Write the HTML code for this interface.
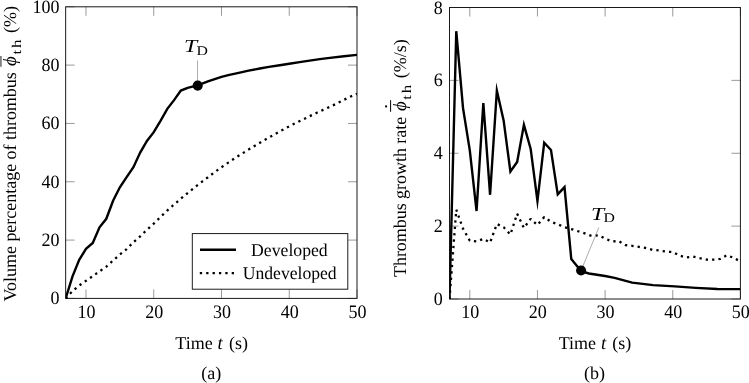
<!DOCTYPE html>
<html lang="en"><head><meta charset="utf-8"><title>Thrombus volume percentage and growth rate</title>
<style>
html,body{margin:0;padding:0;background:#fff;}
body{width:749px;height:383px;overflow:hidden;}
svg{display:block;will-change:transform;text-rendering:geometricPrecision;}
text{font-family:"Liberation Serif","DejaVu Serif",serif;font-size:18.0px;fill:#000;}
.it{font-style:italic;}
.sub{font-size:13.3px;}
.ax{fill:none;stroke:#1a1a1a;stroke-width:1;}
.tk{fill:none;stroke:#808080;stroke-width:0.8;}
.cv{fill:none;stroke:#000;stroke-width:2.4;stroke-linejoin:miter;stroke-miterlimit:10;stroke-linecap:butt;}
.dt{fill:none;stroke:#000;stroke-width:2.3;stroke-dasharray:2.3 4.08;stroke-linejoin:bevel;stroke-linecap:butt;}
.pin{fill:none;stroke:#909090;stroke-width:0.75;}
</style></head><body>
<svg width="749" height="383" viewBox="0 0 749 383">
<rect x="0" y="0" width="749" height="383" fill="#fff"/>
<defs><clipPath id="cl"><rect x="65.65" y="5.80" width="291.35" height="293.60"/></clipPath>
<clipPath id="cr"><rect x="449.50" y="6.50" width="290.90" height="293.50"/></clipPath></defs>
<line class="tk" x1="85.98" y1="298.40" x2="85.98" y2="289.40"/>
<line class="tk" x1="85.98" y1="6.80" x2="85.98" y2="15.80"/>
<line class="tk" x1="153.73" y1="298.40" x2="153.73" y2="289.40"/>
<line class="tk" x1="153.73" y1="6.80" x2="153.73" y2="15.80"/>
<line class="tk" x1="221.49" y1="298.40" x2="221.49" y2="289.40"/>
<line class="tk" x1="221.49" y1="6.80" x2="221.49" y2="15.80"/>
<line class="tk" x1="289.24" y1="298.40" x2="289.24" y2="289.40"/>
<line class="tk" x1="289.24" y1="6.80" x2="289.24" y2="15.80"/>
<line class="tk" x1="357.00" y1="298.40" x2="357.00" y2="289.40"/>
<line class="tk" x1="357.00" y1="6.80" x2="357.00" y2="15.80"/>
<line class="tk" x1="65.65" y1="298.40" x2="74.65" y2="298.40"/>
<line class="tk" x1="357.00" y1="298.40" x2="348.00" y2="298.40"/>
<line class="tk" x1="65.65" y1="240.08" x2="74.65" y2="240.08"/>
<line class="tk" x1="357.00" y1="240.08" x2="348.00" y2="240.08"/>
<line class="tk" x1="65.65" y1="181.76" x2="74.65" y2="181.76"/>
<line class="tk" x1="357.00" y1="181.76" x2="348.00" y2="181.76"/>
<line class="tk" x1="65.65" y1="123.44" x2="74.65" y2="123.44"/>
<line class="tk" x1="357.00" y1="123.44" x2="348.00" y2="123.44"/>
<line class="tk" x1="65.65" y1="65.12" x2="74.65" y2="65.12"/>
<line class="tk" x1="357.00" y1="65.12" x2="348.00" y2="65.12"/>
<line class="tk" x1="65.65" y1="6.80" x2="74.65" y2="6.80"/>
<line class="tk" x1="357.00" y1="6.80" x2="348.00" y2="6.80"/>
<text transform="translate(86.38,317.80) scale(1,1.06)" text-anchor="middle">10</text>
<text transform="translate(154.13,317.80) scale(1,1.06)" text-anchor="middle">20</text>
<text transform="translate(221.89,317.80) scale(1,1.06)" text-anchor="middle">30</text>
<text transform="translate(289.64,317.80) scale(1,1.06)" text-anchor="middle">40</text>
<text transform="translate(357.40,317.80) scale(1,1.06)" text-anchor="middle">50</text>
<text transform="translate(59.60,304.30) scale(1,1.05)" text-anchor="end">0</text>
<text transform="translate(59.60,245.98) scale(1,1.05)" text-anchor="end">20</text>
<text transform="translate(59.60,187.66) scale(1,1.05)" text-anchor="end">40</text>
<text transform="translate(59.60,129.34) scale(1,1.05)" text-anchor="end">60</text>
<text transform="translate(59.60,71.02) scale(1,1.05)" text-anchor="end">80</text>
<text transform="translate(59.60,12.70) scale(1,1.05)" text-anchor="end">100</text>
<rect class="ax" x="65.65" y="6.80" width="291.35" height="291.60"/>
<g clip-path="url(#cl)">
<path class="cv" d="M65.65 298.40 L72.43 276.53 L79.20 259.91 L85.98 248.83 L92.75 243.00 L99.53 227.25 L106.30 218.79 L113.08 200.71 L119.85 187.30 L126.63 177.09 L133.41 167.18 L140.18 152.60 L146.96 140.94 L153.73 132.19 L160.51 120.82 L167.28 108.86 L174.06 100.11 L180.83 90.58 L187.61 87.86 L197.57 85.44 L207.94 81.45 L214.71 79.12 L221.49 76.93 L228.26 75.18 L239.85 72.61 L248.59 70.66 L259.84 68.50 L268.92 66.93 L279.76 65.27 L289.24 63.72 L301.24 61.91 L309.57 60.66 L319.80 59.11 L329.90 57.83 L343.92 56.23 L357.00 54.91"/>
<path class="dt" d="M65.65 298.40 L72.43 291.20 L79.20 285.53 L85.98 280.82 L92.75 276.18 L99.53 271.33 L106.30 266.64 L113.08 260.46 L119.85 254.53 L126.63 249.20 L133.41 242.19 L140.18 236.33 L146.96 229.73 L153.73 223.63 L160.51 216.89 L167.28 210.52 L174.06 204.50 L180.83 198.71 L187.61 193.06 L194.39 187.60 L201.16 182.31 L207.94 177.22 L214.71 172.08 L221.49 167.20 L228.26 162.64 L235.04 158.05 L241.82 153.78 L248.59 149.57 L255.37 145.45 L262.14 141.41 L268.92 137.53 L275.69 133.70 L282.47 129.96 L289.24 126.25 L296.02 122.84 L302.80 119.57 L309.57 116.22 L316.35 113.01 L323.12 109.92 L329.90 106.83 L336.67 103.60 L343.45 100.07 L350.22 96.75 L357.00 93.72"/>
</g>
<line class="pin" x1="197.50" y1="60.50" x2="197.50" y2="85.60"/>
<circle cx="197.70" cy="85.60" r="5.05" fill="#000"/>
<text transform="translate(184.0,52.4) scale(1.28,1)" class="it" style="font-size:18.5px">T</text><text transform="translate(196.4,54.8) scale(1.19,1)" class="sub">D</text>
<rect x="192.3" y="233.6" width="155.5" height="55.6" fill="#fff" stroke="#111" stroke-width="0.95"/>
<line class="cv" x1="200" y1="249.7" x2="236" y2="249.7"/>
<line class="dt" x1="199.8" y1="273.2" x2="236" y2="273.2"/>
<text x="289.4" y="255.5" text-anchor="middle" textLength="76.6" lengthAdjust="spacingAndGlyphs">Developed</text>
<text x="289.7" y="279.2" text-anchor="middle" textLength="94.0" lengthAdjust="spacingAndGlyphs">Undeveloped</text>
<text x="175.3" y="349">Time</text><text x="217.6" y="349" class="it" style="font-size:18.6px">t</text><text x="228.9" y="349">(s)</text>
<text x="211.2" y="379" text-anchor="middle">(a)</text>
<g transform="translate(16.20,0) rotate(-90)">
<text x="-301.6" y="0" textLength="229.4" lengthAdjust="spacing">Volume percentage of thrombus</text>
<text x="-66.1" y="0" class="it" style="font-size:18.8px">&#981;</text>
<text transform="translate(-54.6,4.8) scale(1.28,1)" class="sub" style="letter-spacing:1.5px">th</text>
<text x="-33.0" y="0">(%)</text>
</g>
<rect x="0" y="56" width="1.8" height="10.8" fill="#808080"/>
<line class="tk" x1="469.80" y1="299.00" x2="469.80" y2="290.00"/>
<line class="tk" x1="469.80" y1="7.50" x2="469.80" y2="16.50"/>
<line class="tk" x1="537.45" y1="299.00" x2="537.45" y2="290.00"/>
<line class="tk" x1="537.45" y1="7.50" x2="537.45" y2="16.50"/>
<line class="tk" x1="605.10" y1="299.00" x2="605.10" y2="290.00"/>
<line class="tk" x1="605.10" y1="7.50" x2="605.10" y2="16.50"/>
<line class="tk" x1="672.75" y1="299.00" x2="672.75" y2="290.00"/>
<line class="tk" x1="672.75" y1="7.50" x2="672.75" y2="16.50"/>
<line class="tk" x1="740.40" y1="299.00" x2="740.40" y2="290.00"/>
<line class="tk" x1="740.40" y1="7.50" x2="740.40" y2="16.50"/>
<line class="tk" x1="449.50" y1="299.00" x2="458.50" y2="299.00"/>
<line class="tk" x1="740.40" y1="299.00" x2="731.40" y2="299.00"/>
<line class="tk" x1="449.50" y1="226.12" x2="458.50" y2="226.12"/>
<line class="tk" x1="740.40" y1="226.12" x2="731.40" y2="226.12"/>
<line class="tk" x1="449.50" y1="153.25" x2="458.50" y2="153.25"/>
<line class="tk" x1="740.40" y1="153.25" x2="731.40" y2="153.25"/>
<line class="tk" x1="449.50" y1="80.38" x2="458.50" y2="80.38"/>
<line class="tk" x1="740.40" y1="80.38" x2="731.40" y2="80.38"/>
<line class="tk" x1="449.50" y1="7.50" x2="458.50" y2="7.50"/>
<line class="tk" x1="740.40" y1="7.50" x2="731.40" y2="7.50"/>
<text transform="translate(470.20,318.40) scale(1,1.06)" text-anchor="middle">10</text>
<text transform="translate(537.85,318.40) scale(1,1.06)" text-anchor="middle">20</text>
<text transform="translate(605.50,318.40) scale(1,1.06)" text-anchor="middle">30</text>
<text transform="translate(673.15,318.40) scale(1,1.06)" text-anchor="middle">40</text>
<text transform="translate(740.80,318.40) scale(1,1.06)" text-anchor="middle">50</text>
<text transform="translate(442.80,305.10) scale(1,1.05)" text-anchor="end">0</text>
<text transform="translate(442.80,232.22) scale(1,1.05)" text-anchor="end">2</text>
<text transform="translate(442.80,159.35) scale(1,1.05)" text-anchor="end">4</text>
<text transform="translate(442.80,86.47) scale(1,1.05)" text-anchor="end">6</text>
<text transform="translate(442.80,13.60) scale(1,1.05)" text-anchor="end">8</text>
<rect class="ax" x="449.50" y="7.50" width="290.90" height="291.50"/>
<g clip-path="url(#cr)">
<path class="dt" d="M449.50 299.00 L456.27 209.73 L463.03 228.68 L469.80 240.70 L476.56 241.43 L483.33 238.88 L490.09 242.52 L496.86 223.94 L503.62 227.22 L510.39 234.51 L517.15 213.74 L523.92 227.95 L530.68 218.84 L537.45 225.03 L544.21 217.02 L550.98 221.75 L557.74 224.30 L564.51 227.22 L571.27 229.04 L578.04 231.23 L584.80 233.41 L591.57 235.96 L598.33 235.23 L605.10 238.51 L611.86 241.43 L618.63 241.06 L625.39 245.07 L632.16 245.80 L638.92 246.89 L645.69 247.99 L652.45 249.81 L659.22 250.54 L665.98 251.63 L672.75 252.00 L679.51 255.64 L686.28 257.46 L693.04 256.55 L699.81 258.19 L706.57 259.65 L713.34 259.65 L720.10 258.92 L726.87 255.28 L733.63 257.83 L740.40 261.47"/>
<path class="cv" d="M449.50 299.00 L456.27 31.18 L463.03 108.07 L469.80 150.34 L476.56 211.00 L483.33 102.97 L490.09 194.79 L496.86 90.58 L503.62 120.46 L510.39 171.47 L517.15 162.00 L523.92 124.83 L530.68 148.88 L537.45 200.98 L544.21 142.68 L550.98 149.97 L557.74 194.42 L564.51 187.14 L571.27 258.92 L581.22 271.20 L588.86 273.49 L605.10 276.04 L614.57 277.87 L632.16 282.60 L653.13 285.15 L674.78 286.39 L695.75 287.89 L717.40 288.98 L740.40 289.16"/>
</g>
<line class="pin" x1="581.10" y1="270.50" x2="598.80" y2="227.60"/>
<circle cx="581.10" cy="270.50" r="5.05" fill="#000"/>
<text transform="translate(591.0,219.8) scale(1.28,1)" class="it" style="font-size:18.5px">T</text><text transform="translate(603.4,222.2) scale(1.19,1)" class="sub">D</text>
<text x="558.75" y="349.2">Time</text><text x="601.05" y="349.2" class="it" style="font-size:18.6px">t</text><text x="612.35" y="349.2">(s)</text>
<text x="594.6" y="379.2" text-anchor="middle">(b)</text>
<g transform="translate(406.20,0) rotate(-90)">
<text x="-277.0" y="0" textLength="160.2" lengthAdjust="spacing">Thrombus growth rate</text>
<text x="-111.1" y="0" class="it" style="font-size:18.8px">&#981;</text>
<text transform="translate(-99.8,4.8) scale(1.28,1)" class="sub" style="letter-spacing:1.5px">th</text>
<text x="-78.2" y="0">(%/s)</text>
</g>
<line x1="390.6" y1="100.2" x2="390.6" y2="111.8" stroke="#000" stroke-width="1"/>
<circle cx="386.1" cy="106.4" r="1.1" fill="#000"/>
</svg>
</body></html>
